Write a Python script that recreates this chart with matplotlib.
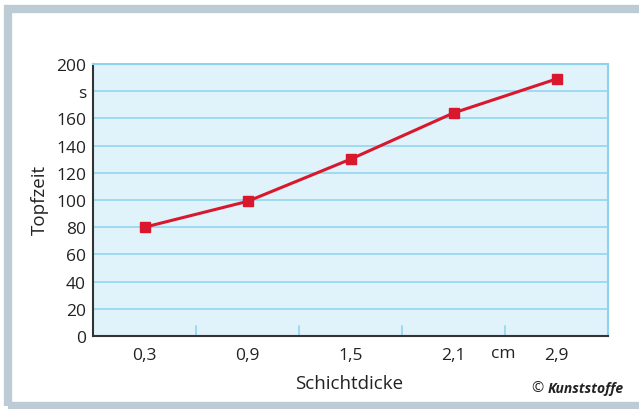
import matplotlib.pyplot as plt
from matplotlib.patches import Rectangle

plt.rcParams['font.family'] = ['Open Sans', 'DejaVu Sans']

dicke = ["0,3", "0,9", "1,5", "2,1", "2,9"]
topfzeit = [80, 99, 130, 164, 189]
y_ticks = [0, 20, 40, 60, 80, 100, 120, 140, 160, 180, 200]
y_labels = ["0", "20", "40", "60", "80", "100", "120", "140", "160", "s", "200"]

W, H = 639, 410
fig = plt.figure(figsize=(W / 100, H / 100), dpi=100)
fig.patch.set_facecolor("white")

# grey frame (right side runs past the image edge)
frame = Rectangle((8 / W, 3.5 / H), 2, (406.5 - 10) / H,
                  transform=fig.transFigure, facecolor="none",
                  edgecolor="#bccbd4", linewidth=6)
fig.patches.append(frame)

ax = fig.add_axes([93 / W, 1 - 337 / H, (608 - 93) / W, (337 - 65) / H])
ax.set_facecolor("#e0f2fa")

x = list(range(len(dicke)))
ax.plot(x, topfzeit, color="#d9172d", linewidth=2.2, marker="s",
        markersize=7.5, zorder=5)

ax.set_xlim(-0.5, len(dicke) - 0.5)
ax.set_ylim(0, 200)
ax.set_yticks(y_ticks)
ax.set_yticklabels(y_labels, fontsize=12.5, color="#222222")
ax.set_xticks(x)
ax.set_xticklabels(dicke, fontsize=12.5, color="#222222")
ax.tick_params(axis="x", length=0, pad=8)
ax.tick_params(axis="y", length=0, pad=5)

ax.grid(axis="y", color="#8dd3ef", linewidth=1.1)
ax.set_axisbelow(True)

# small ticks between categories
for b in [0.5, 1.5, 2.5, 3.5]:
    ax.plot([b, b], [0, 7], color="#8dd3ef", linewidth=1.1, zorder=2)

# unit label between 2,1 and 2,9
fig.text(503 / W, 1 - 354 / H, "cm", ha="center", va="center",
         fontsize=12.5, color="#222222")

for s in ["left", "bottom"]:
    ax.spines[s].set_color("#333333")
    ax.spines[s].set_linewidth(1.5)
for s in ["top", "right"]:
    ax.spines[s].set_color("#8dd3ef")
    ax.spines[s].set_linewidth(1.5)

fig.text(40 / W, 1 - 200 / H, "Topfzeit", rotation=90, ha="center",
         va="center", fontsize=13.5, color="#222222")
fig.text(349 / W, 1 - 384 / H, "Schichtdicke", ha="center", va="center",
         fontsize=13.5, color="#222222")
fig.text(531 / W, 1 - 389 / H, "©", ha="left", va="center", fontsize=10.5,
         color="#222222")
fig.text(624 / W, 1 - 389 / H, "Kunststoffe", ha="right", va="center",
         fontsize=10, fontweight="bold", fontstyle="italic", color="#222222")

fig.savefig("out.png", dpi=100)
